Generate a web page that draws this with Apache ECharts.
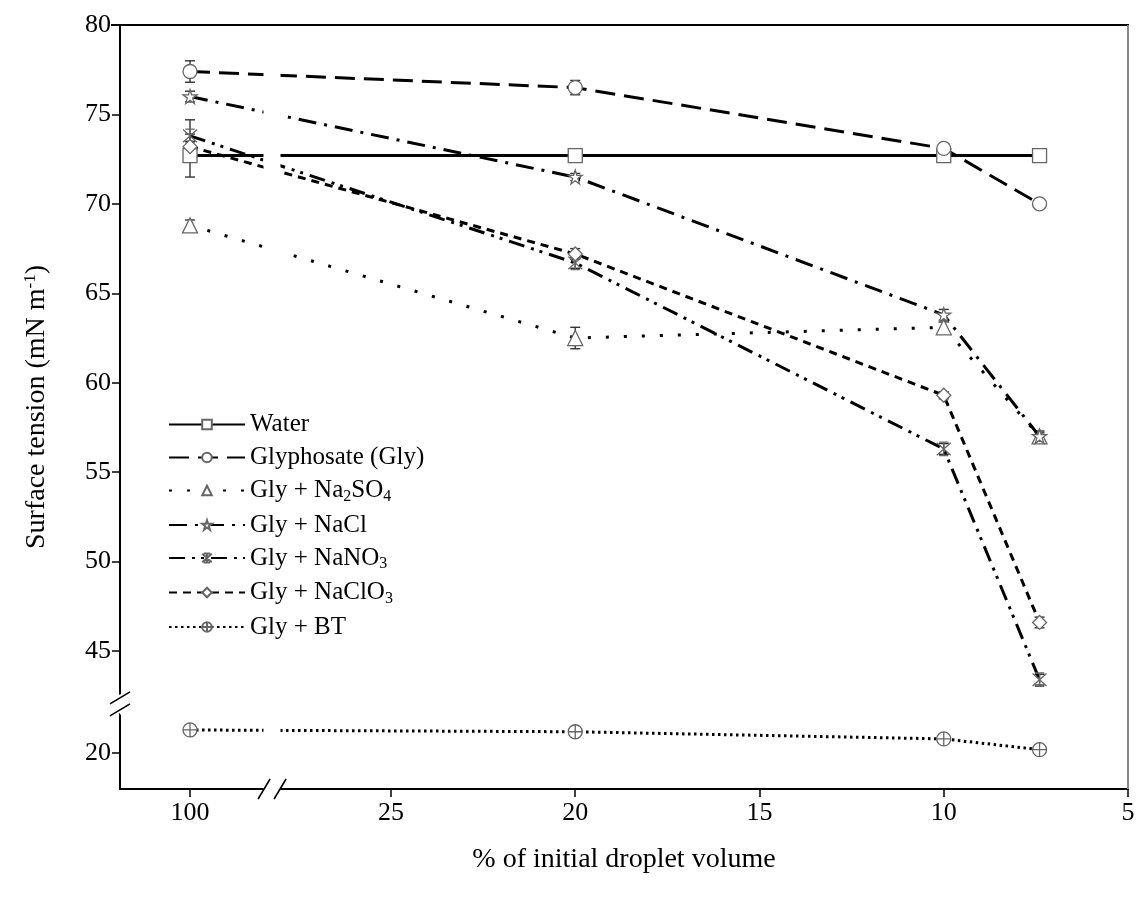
<!DOCTYPE html>
<html>
<head>
<meta charset="utf-8">
<script src="https://cdn.jsdelivr.net/npm/echarts@6/dist/echarts.min.js"></script>
<style>
  html, body { margin: 0; padding: 0; background: #fff; }
  #chart { width: 1136px; height: 901px; }
</style>
</head>
<body>
<div id="chart"></div>
<script>
// ---- data ----
const xValues = [100, 20, 10, 7.4];
const xTickValues = [100, 25, 20, 15, 10, 5];
const yTickValues = [20, 45, 50, 55, 60, 65, 70, 75, 80];

const seriesNames = ['Water', 'Glyphosate (Gly)', 'Gly + Na2SO4', 'Gly + NaCl', 'Gly + NaNO3', 'Gly + NaClO3', 'Gly + BT'];

const water     = [72.7, 72.7, 72.7, 72.7];
const gly       = [77.4, 76.5, 73.1, 70.0];
const glyNa2SO4 = [68.8, 62.5, 63.1, 57.0];
const glyNaCl   = [76.0, 71.5, 63.8, 57.0];
const glyNaNO3  = [73.8, 66.7, 56.3, 43.4];
const glyNaClO3 = [73.2, 67.2, 59.3, 46.6];
const glyBT     = [21.3, 21.2, 20.8, 20.2];

const errWater     = [1.2, 0.1, 0.1, 0.1];
const errGly       = [0.6, 0.4, 0.2, 0.2];
const errNa2SO4    = [0.3, 0.6, 0.3, 0.2];
const errNaCl      = [0.3, 0.2, 0.3, 0.3];
const errNaNO3     = [0.9, 0.3, 0.3, 0.3];
const errNaClO3    = [0.3, 0.3, 0.2, 0.3];
const errBT        = [0.2, 0.2, 0.2, 0.2];

const allValues = [water, gly, glyNa2SO4, glyNaCl, glyNaNO3, glyNaClO3, glyBT];
const allErrors = [errWater, errGly, errNa2SO4, errNaCl, errNaNO3, errNaClO3, errBT];

// ---- styles ----
const FONT = '"Liberation Serif", "Times New Roman", serif';
const STAR = 'path://M50,2 L61,36 L97,36 L68,57 L79,92 L50,71 L21,92 L32,57 L3,36 L39,36 Z';
const ASTER = 'path://M5,5 L95,95 M95,5 L5,95 M50,0 L50,100 M20,2 L80,2 M20,98 L80,98';
const OPLUS = 'path://M50,2 A48,48 0 1,1 49.9,2 Z M50,2 L50,98 M2,50 L98,50';
const symbols = ['rect', 'circle', 'triangle', STAR, ASTER, 'diamond', OPLUS];
const dashes = [
  'solid',
  [20, 9],
  [3, 15],
  [18, 8, 3, 8],
  [16, 7, 3, 6, 3, 7],
  [8, 6],
  [2.5, 3.5]
];

const chart = echarts.init(document.getElementById('chart'), null, { renderer: 'canvas' });

const lineSeries = seriesNames.map((name, i) => ({
  name: name,
  type: 'line',
  data: xValues.map((x, j) => [x, allValues[i][j]]),
  symbol: symbols[i],
  symbolSize: i === 2 ? 15 : 14,
  showSymbol: true,
  lineStyle: { color: '#000', width: 3, type: dashes[i] },
  itemStyle: { color: '#fff', borderColor: '#666', borderWidth: 1.3 },
  z: 3,
  animation: false
}));

const errSeries = seriesNames.map((name, i) => ({
  name: 'err' + i,
  type: 'custom',
  data: xValues.map((x, j) => [x, allValues[i][j], allErrors[i][j]]),
  renderItem: function (params, api) {
    const x = api.value(0), y = api.value(1), e = api.value(2);
    const top = api.coord([x, y + e]);
    const bot = api.coord([x, y - e]);
    const w = 5;
    const st = { stroke: '#333', lineWidth: 1.4 };
    return {
      type: 'group',
      children: [
        { type: 'line', shape: { x1: top[0], y1: top[1], x2: bot[0], y2: bot[1] }, style: st },
        { type: 'line', shape: { x1: top[0] - w, y1: top[1], x2: top[0] + w, y2: top[1] }, style: st },
        { type: 'line', shape: { x1: bot[0] - w, y1: bot[1], x2: bot[0] + w, y2: bot[1] }, style: st }
      ]
    };
  },
  z: 2,
  silent: true,
  animation: false
}));

const legendLabels = {
  'Water': '{n|Water}',
  'Glyphosate (Gly)': '{n|Glyphosate (Gly)}',
  'Gly + Na2SO4': '{n|Gly + Na}{s|2}{n|SO}{s|4}',
  'Gly + NaCl': '{n|Gly + NaCl}',
  'Gly + NaNO3': '{n|Gly + NaNO}{s|3}',
  'Gly + NaClO3': '{n|Gly + NaClO}{s|3}',
  'Gly + BT': '{n|Gly + BT}'
};

const option = {
  backgroundColor: '#fff',
  animation: false,
  grid: {
    left: 120, right: 8, top: 25, bottom: 112,
    show: false,
    outerBoundsMode: 'none', containLabel: false
  },
  legend: {
    data: seriesNames,
    orient: 'vertical',
    left: 163,
    top: 407,
    zlevel: 1,
    z: 50,
    itemWidth: 76,
    itemHeight: 12,
    itemGap: 8,
    selectedMode: false,
    formatter: function (name) { return legendLabels[name]; },
    textStyle: {
      color: '#000',
      rich: {
        n: { fontFamily: FONT, fontSize: 25, lineHeight: 28, color: '#000' },
        s: { fontFamily: FONT, fontSize: 16, lineHeight: 12, verticalAlign: 'bottom', color: '#000' }
      }
    }
  },
  xAxis: {
    type: 'value',
    inverse: true,
    min: 5,
    max: 101.9,
    breaks: [{ start: 28, end: 98, gap: '1.66%' }],
    breakArea: {
      show: true,
      itemStyle: { color: '#fff', borderColor: '#fff', borderWidth: 0, opacity: 1 },
      zigzagAmplitude: 0,
      expandOnClick: false
    },
    name: '% of initial droplet volume',
    nameLocation: 'middle',
    nameGap: 57,
    nameTextStyle: { fontFamily: FONT, fontSize: 28, color: '#000' },
    axisLine: { show: true, onZero: false, lineStyle: { color: '#000', width: 2 } },
    axisTick: { show: true, inside: false, length: 8, customValues: xTickValues, lineStyle: { color: '#000', width: 1.5 } },
    axisLabel: { customValues: xTickValues, fontFamily: FONT, fontSize: 26, color: '#000', margin: 11 },
    splitLine: { show: false }
  },
  yAxis: {
    type: 'value',
    min: 18,
    max: 80,
    breaks: [{ start: 22.2, end: 42.6, gap: '2.6%' }],
    breakArea: {
      show: true,
      itemStyle: { color: '#fff', borderColor: '#fff', borderWidth: 0, opacity: 1 },
      zigzagAmplitude: 0,
      expandOnClick: false
    },
    name: '{n|Surface tension (mN m}{p|-1}{n|)}',
    nameLocation: 'middle',
    nameGap: 68,
    nameRotate: 90,
    nameTextStyle: {
      color: '#000',
      rich: {
        n: { fontFamily: FONT, fontSize: 28, lineHeight: 30, color: '#000' },
        p: { fontFamily: FONT, fontSize: 17, lineHeight: 14, verticalAlign: 'top', color: '#000' }
      }
    },
    axisLine: { show: true, onZero: false, lineStyle: { color: '#000', width: 2 } },
    axisTick: { show: true, inside: false, length: 8, customValues: yTickValues, lineStyle: { color: '#000', width: 1.5 } },
    axisLabel: { customValues: yTickValues, fontFamily: FONT, fontSize: 26, color: '#000', margin: 9 },
    splitLine: { show: false }
  },
  series: lineSeries.concat(errSeries)
};

chart.setOption(option);

// frame and break marks (//), placed from the axes' own scales
(function () {
  const xa = chart.convertToPixel({ xAxisIndex: 0 }, 28);
  const xb = chart.convertToPixel({ xAxisIndex: 0 }, 98);
  const cx = (xa + xb) / 2;
  const axisY = chart.convertToPixel({ yAxisIndex: 0 }, 18);
  const topY = chart.convertToPixel({ yAxisIndex: 0 }, 80);
  const ya = chart.convertToPixel({ yAxisIndex: 0 }, 22.2);
  const yb = chart.convertToPixel({ yAxisIndex: 0 }, 42.6);
  const cy = (ya + yb) / 2;
  const axisX = chart.convertToPixel({ xAxisIndex: 0 }, 101.9);
  const rightX = chart.convertToPixel({ xAxisIndex: 0 }, 5);
  const st = { stroke: '#000', lineWidth: 1.6 };
  const g = [];
  // frame: top (black) and right (grey)
  g.push({ type: 'line', shape: { x1: axisX - 9, y1: topY, x2: rightX + 1, y2: topY }, style: { stroke: '#000', lineWidth: 2 }, z: 100 });
  g.push({ type: 'line', shape: { x1: rightX, y1: topY, x2: rightX, y2: axisY }, style: { stroke: '#888', lineWidth: 2 }, z: 100 });
  // white cut on x axis
  g.push({ type: 'rect', shape: { x: cx - 8, y: axisY - 3, width: 16, height: 6 }, style: { fill: '#fff' }, z: 100 });
  [-8, 8].forEach(d => {
    g.push({ type: 'line', shape: { x1: cx + d - 6, y1: axisY + 10, x2: cx + d + 6, y2: axisY - 10 }, style: st, z: 101 });
  });
  g.push({ type: 'rect', shape: { x: axisX - 3, y: cy - 6, width: 6, height: 12 }, style: { fill: '#fff' }, z: 100 });
  [-6, 6].forEach(d => {
    g.push({ type: 'line', shape: { x1: axisX - 10, y1: cy + d + 6, x2: axisX + 10, y2: cy + d - 6 }, style: st, z: 101 });
  });
  chart.setOption({ graphic: g });
})();
</script>
</body>
</html>
